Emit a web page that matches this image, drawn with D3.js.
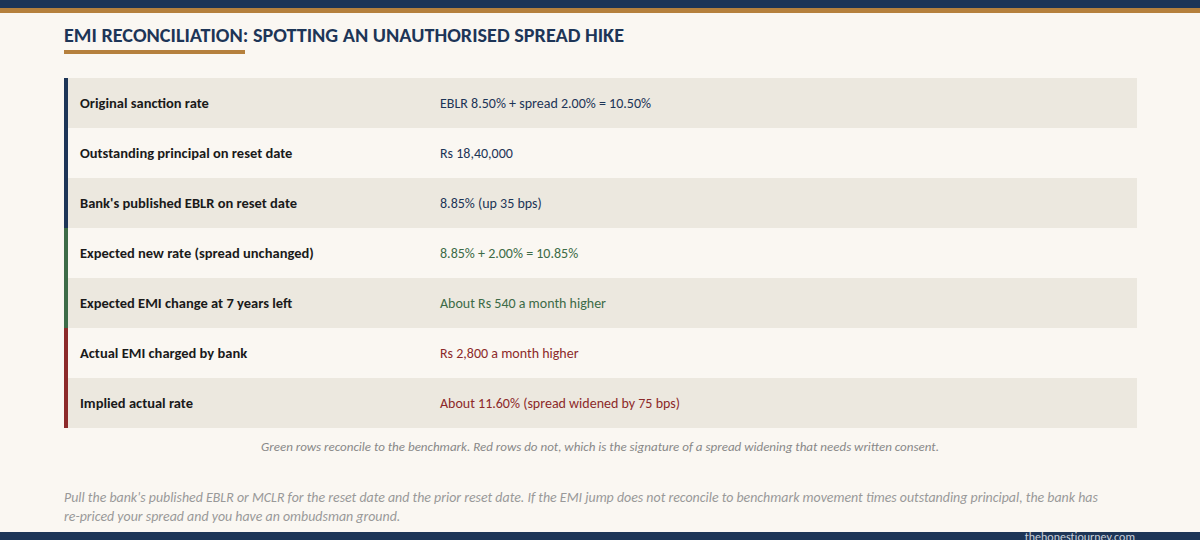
<!DOCTYPE html>
<html><head><meta charset="utf-8">
<script src="https://cdn.jsdelivr.net/npm/d3@7"></script>
<style>
body{margin:0;background:#faf7f2;}
svg{font-family:Carlito,Calibri,Lato,sans-serif;display:block}
</style></head>
<body><svg id="c" width="1200" height="540"></svg>
<script>
// table content
var labels = ["Original sanction rate","Outstanding principal on reset date","Bank's published EBLR on reset date",
  "Expected new rate (spread unchanged)","Expected EMI change at 7 years left","Actual EMI charged by bank","Implied actual rate"];
var values = ["EBLR 8.50% + spread 2.00% = 10.50%","Rs 18,40,000","8.85% (up 35 bps)",
  "8.85% + 2.00% = 10.85%","About Rs 540 a month higher","Rs 2,800 a month higher","About 11.60% (spread widened by 75 bps)"];
var groups = ["input","input","input","ok","ok","bad","bad"];

var colors = {input:"#1d3557", ok:"#3d6b47", bad:"#8c2a2a"};
var svg = d3.select("#c");
svg.append("rect").attr("width",1200).attr("height",540).attr("fill","#faf7f2");
svg.append("rect").attr("width",1200).attr("height",8).attr("fill","#1d3557");
svg.append("rect").attr("y",8).attr("width",1200).attr("height",5).attr("fill","#b5803d");

svg.append("text").attr("x",64).attr("y",42).attr("font-size",20.2).attr("font-weight",700)
  .attr("fill","#1d3557").text("EMI RECONCILIATION: SPOTTING AN UNAUTHORISED SPREAD HIKE");
svg.append("rect").attr("x",64).attr("y",50).attr("width",181).attr("height",4).attr("fill","#b5803d");

var y = d3.scaleBand().domain(d3.range(labels.length)).range([78,428]);
var rows = svg.selectAll("g.row").data(labels).enter().append("g").attr("class","row")
  .attr("transform",function(d,i){return "translate(0,"+y(i)+")";});
rows.append("rect").attr("x",64).attr("width",1073).attr("height",y.bandwidth())
  .attr("fill",function(d,i){return i%2===0?"#ece8df":"#faf7f2";});
rows.append("rect").attr("x",64).attr("width",4).attr("height",y.bandwidth())
  .attr("fill",function(d,i){return colors[groups[i]];});
rows.append("text").attr("x",80).attr("y",y.bandwidth()/2+5).attr("font-size",14.5).attr("font-weight",700)
  .attr("fill","#1a1a1a").text(function(d){return d;});
rows.append("text").attr("x",440).attr("y",y.bandwidth()/2+5).attr("font-size",14)
  .attr("fill",function(d,i){return colors[groups[i]];}).text(function(d,i){return values[i];});

svg.append("text").attr("x",600).attr("y",451).attr("text-anchor","middle").attr("font-size",13)
  .attr("font-style","italic").attr("fill","#888")
  .text("Green rows reconcile to the benchmark. Red rows do not, which is the signature of a spread widening that needs written consent.");
var note = svg.append("text").attr("font-size",13.9).attr("font-style","italic").attr("fill","#999");
note.append("tspan").attr("x",64).attr("y",502).text("Pull the bank's published EBLR or MCLR for the reset date and the prior reset date. If the EMI jump does not reconcile to benchmark movement times outstanding principal, the bank has");
note.append("tspan").attr("x",64).attr("y",521).text("re-priced your spread and you have an ombudsman ground.");

svg.append("rect").attr("y",532).attr("width",1200).attr("height",8).attr("fill","#1d3557");
svg.append("text").attr("x",1135).attr("y",541).attr("text-anchor","end").attr("font-size",12)
  .attr("fill","#c9d0da").text("thehonestjourney.com");
</script></body></html>
